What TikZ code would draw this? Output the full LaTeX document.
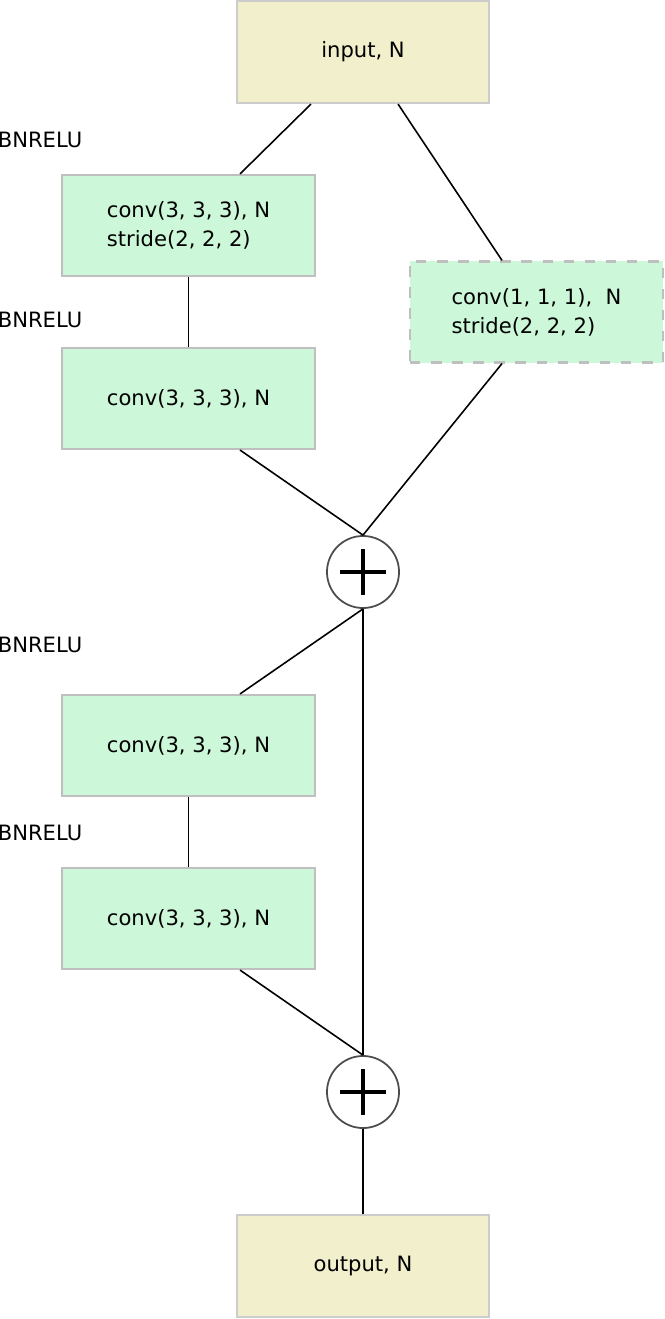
\documentclass[tikz,border=0pt]{standalone}
\usepackage{fontspec}
\setmainfont{DejaVu Sans}
\usetikzlibrary{positioning}
\tikzset{
  io/.style={draw=black!20,fill={rgb,255:red,242;green,239;blue,204},line width=0.6pt,
    minimum width=2.52cm,minimum height=1.02cm,inner sep=0pt},
  conv/.style={draw=black!25,fill={rgb,255:red,204;green,247;blue,217},line width=0.6pt,
    minimum width=2.53cm,minimum height=1.01cm,inner sep=0pt,align=left},
  addop/.style={draw=black!70,fill=white,circle,minimum size=0.72cm,inner sep=0pt,line width=0.5pt},
  lbl/.style={anchor=west,inner sep=0pt}
}
\newcommand{\plusmark}[1]{\draw[line width=1.4pt]([xshift=-0.23cm]#1.center)--([xshift=0.23cm]#1.center)
  ([yshift=-0.23cm]#1.center)--([yshift=0.23cm]#1.center);}
\begin{document}
\begin{tikzpicture}[x=0.01cm,y=-0.01cm,font=\fontsize{6pt}{8.2pt}\selectfont,line width=0.45pt]
\useasboundingbox (0,0) rectangle (664,1319);
\node[io] (in) at (363,52) {input, N};
\node[conv] (c1) at (188.5,225.5) {conv(3, 3, 3), N\\stride(2, 2, 2)};
\node[conv] (c2) at (188.5,398.5) {conv(3, 3, 3), N};
\node[conv,dashed] (sc) at (536.5,312) {conv(1, 1, 1),\ \ N\\stride(2, 2, 2)};
\node[addop] (p1) at (363,572) {};
\node[conv] (c3) at (188.5,745.5) {conv(3, 3, 3), N};
\node[conv] (c4) at (188.5,918.5) {conv(3, 3, 3), N};
\node[addop] (p2) at (363,1092) {};
\node[io] (out) at (363,1266) {output, N};
\plusmark{p1}
\plusmark{p2}
% BN + ReLU before each conv
\node[lbl] at (-3,140) {BNRELU};
\node[lbl] at (-3,320) {BNRELU};
\node[lbl] at (-3,645) {BNRELU};
\node[lbl] at (-3,833) {BNRELU};
% connectors
\draw ([xshift=-0.52cm]in.south)--([xshift=0.515cm]c1.north);
\draw ([xshift=0.35cm]in.south)--([xshift=-0.345cm]sc.north);
\draw (c1)--(c2);
\draw ([xshift=0.515cm]c2.south)--(p1.north);
\draw ([xshift=-0.345cm]sc.south)--(p1.north);
\draw (p1.south)--([xshift=0.515cm]c3.north);
\draw (p1)--(p2);
\draw (c3)--(c4);
\draw ([xshift=0.515cm]c4.south)--(p2.north);
\draw (p2)--(out);
\end{tikzpicture}
\end{document}
